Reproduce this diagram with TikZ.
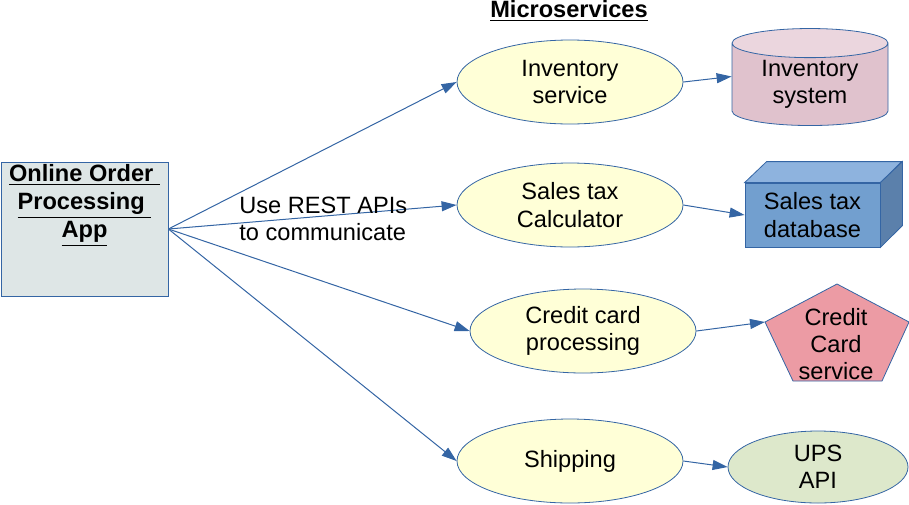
\documentclass[tikz,border=0pt]{standalone}
\usepackage{fontspec}
\setmainfont{Liberation Sans}
\usepackage{tikz}
\usetikzlibrary{arrows.meta, shapes.geometric}

\definecolor{lineblue}{HTML}{3465A4}
\definecolor{appfill}{HTML}{DEE6E6}
\definecolor{svcfill}{HTML}{FFFFD7}
\definecolor{cylbody}{HTML}{E0C2CD}
\definecolor{cyltop}{HTML}{EBD6DE}
\definecolor{boxfront}{HTML}{729FCF}
\definecolor{boxtop}{HTML}{8EB3DE}
\definecolor{boxside}{HTML}{5B80AB}
\definecolor{cardfill}{HTML}{EC9BA4}
\definecolor{upsfill}{HTML}{DDE8CB}

\tikzset{
    service/.style={ellipse, draw=lineblue, fill=svcfill, inner sep=0pt,
        minimum width=113pt, minimum height=42pt, align=center},
    link/.style={draw=lineblue, line width=0.5pt, -{Triangle[length=7.5pt,width=5pt]}},
}

\begin{document}
\begin{tikzpicture}[x=0.5pt, y=-0.5pt, font=\fontsize{11.8pt}{13.6pt}\selectfont]
    \useasboundingbox (0,0) rectangle (909,504);
    % app
    \node[draw=lineblue, fill=appfill, minimum width=83.5pt, minimum height=67pt, inner sep=0pt] (app) at (84.5,229) {};
    \node[anchor=north, align=center, inner sep=0pt, font=\fontsize{11.8pt}{14pt}\selectfont\bfseries] (apptitle) at (84.5,164)
        {\underline{Online Order\ }\\\underline{Processing\ }\\\underline{App}};
    % title
    \node[font=\fontsize{11.8pt}{13.6pt}\selectfont\bfseries] (title) at (569,11) {\underline{Microservices}};
    % microservices
    \node[service] (inv) at (570,82) {Inventory\\service};
    \node[service] (tax) at (570,205) {Sales tax\\Calculator};
    \node[service] (card) at (583,331) {Credit card\\processing};
    \node[service] (ship) at (570,461) {Shipping};
    % back ends
    \node[cylinder, shape border rotate=90, draw=lineblue, cylinder uses custom fill,
        cylinder body fill=cylbody, cylinder end fill=cyltop, aspect=0.3,
        minimum width=78pt, minimum height=48.5pt, inner sep=0pt, align=center] (invsys) at (810,84.5) {Inventory\\system};
    \node[draw=lineblue, fill=boxfront, minimum width=67.5pt, minimum height=32pt, inner sep=0pt, align=center] (taxdb) at (812.5,215) {};
    \fill[boxtop, draw=lineblue] (taxdb.north west) -- ++(22,-21) -- ++(135,0) -- (taxdb.north east) -- cycle;
    \fill[boxside, draw=lineblue] (taxdb.north east) -- ++(22,-21) -- ++(0,64) -- (taxdb.south east) -- cycle;
    \node[align=center, inner sep=0pt] (taxdbtext) at (taxdb.center) {Sales tax\\database};
    \coordinate (cardsvcw) at (765,322);
    \draw[draw=lineblue, fill=cardfill] (cardsvcw) -- (837,284) -- (909,322) -- (882,381) -- (793,381) -- cycle;
    \node[align=center, inner sep=0pt] (cardsvc) at (836,344) {Credit\\Card\\service};
    \node[ellipse, draw=lineblue, fill=upsfill, minimum width=90pt, minimum height=36pt, inner sep=0pt, align=center] (ups) at (818,467) {UPS\\API};
    % links
    \draw[link] (app.east) -- (inv.west);
    \draw[link] (app.east) -- (tax.west);
    \draw[link] (app.east) -- (card.west);
    \draw[link] (app.east) -- (ship.west);
    \draw[link] (inv.east) -- ([yshift=4pt]invsys.west);
    \draw[link] (tax.east) -- (taxdb.west);
    \draw[link] (card.east) -- (cardsvcw);
    \draw[link] (ship.east) -- (ups.west);
    \node[anchor=west, align=left, inner sep=0pt] (rest) at (239,219) {Use REST APIs\\to communicate};
\end{tikzpicture}
\end{document}
